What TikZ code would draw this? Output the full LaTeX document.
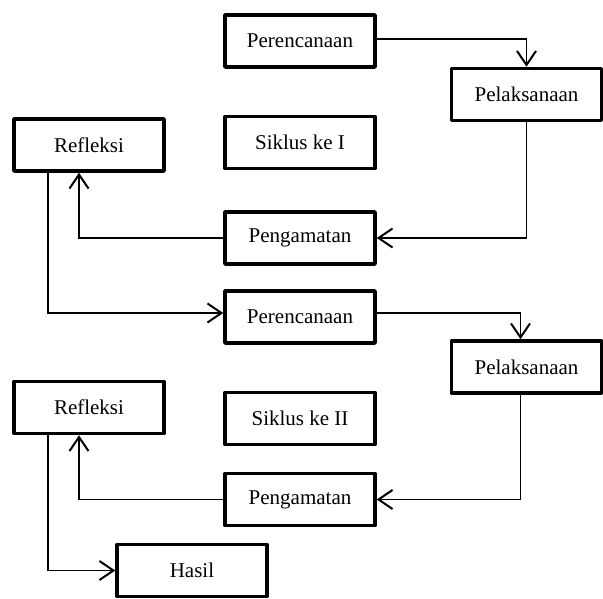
\documentclass[tikz,border=0pt]{standalone}
\usepackage{fontspec}
\setmainfont{Liberation Serif}
\usetikzlibrary{arrows.meta,positioning}

\begin{document}
\begin{tikzpicture}[
    x=1pt, y=-1pt,
    box/.style={draw, line width=3.5pt, line join=round, minimum width=150pt, minimum height=52pt, align=center, font=\fontsize{21}{25}\selectfont},
    arrow/.style={-{Straight Barb[length=14pt, width=19pt, line width=2pt]}, line width=1.5pt}
  ]
    \useasboundingbox (0,0) rectangle (603,599);
    % siklus I
    \node[box] (per1) at (300,41) {Perencanaan};
    \node[box, below right=-2pt and 73pt of per1] (pel1) {Pelaksanaan};
    \node[box, below=46pt of per1] (sik1) {Siklus ke I};
    \node[box, left=57.5pt of sik1, yshift=-2.5pt] (ref1) {Refleksi};
    \node[box, below=40pt of sik1] (pen1) {Pengamatan};
    % siklus II
    \node[box, below=23.5pt of pen1] (per2) {Perencanaan};
    \node[box, below right=-5.5pt and 73pt of per2] (pel2) {Pelaksanaan};
    \node[box, below=46pt of per2] (sik2) {Siklus ke II};
    \node[box, left=57.5pt of sik2, yshift=11pt] (ref2) {Refleksi};
    \node[box, below=25.5pt of sik2] (pen2) {Pengamatan};
    \node[box, below=15.5pt of pen2, xshift=-108pt] (has) {Hasil};
    \draw[arrow] ([yshift=2pt]per1.east) -| (pel1.north);
    \draw[arrow] (pel1.south) |- (pen1.east);
    \draw[arrow] (pen1.west) -| ([xshift=-10pt]ref1.south);
    \draw[arrow] ([xshift=-41pt]ref1.south) |- ([yshift=4pt]per2.west);
    \draw[arrow] ([yshift=4pt]per2.east) -| ([xshift=-6pt]pel2.north);
    \draw[arrow] ([xshift=-6pt]pel2.south) |- (pen2.east);
    \draw[arrow] (pen2.west) -| ([xshift=-10pt]ref2.south);
    \draw[arrow] ([xshift=-41pt]ref2.south) |- (has.west);
  \end{tikzpicture}
\end{document}
